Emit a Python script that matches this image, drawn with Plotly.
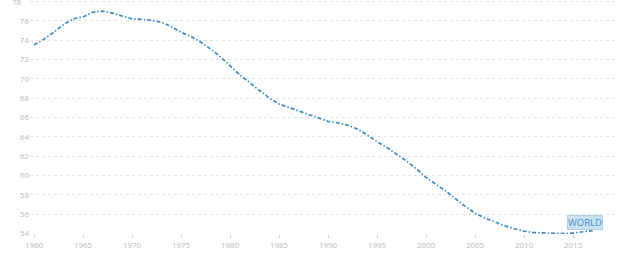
import plotly.graph_objects as go

years = list(range(1960, 2018))
values = [
    73.5, 74.1, 74.8, 75.6, 76.2, 76.4, 76.9, 77.0, 76.8, 76.5,
    76.2, 76.15, 76.05, 75.85, 75.4, 74.8, 74.4, 73.8, 73.1, 72.3,
    71.3, 70.4, 69.6, 68.8, 68.0, 67.4, 67.05, 66.7, 66.35, 65.95,
    65.6, 65.45, 65.2, 64.8, 64.2, 63.5, 62.9, 62.2, 61.5, 60.7,
    59.8, 59.1, 58.4, 57.6, 56.8, 56.1, 55.6, 55.2, 54.8, 54.5,
    54.25, 54.1, 54.05, 54.0, 54.0, 54.05, 54.15, 54.3,
]
x_ticks = [1960, 1965, 1970, 1975, 1980, 1985, 1990, 1995, 2000, 2005, 2010, 2015]
y_ticks = [54, 56, 58, 60, 62, 64, 66, 68, 70, 72, 74, 76, 78]
series_label = "WORLD"

line_color = "#3a8dc5"
fig = go.Figure()
fig.add_trace(go.Scatter(
    x=years, y=values, mode="lines",
    line=dict(color=line_color, width=1.7, dash="4px,2px,1.5px,2px"),
    hoverinfo="x+y", showlegend=False,
))
fig.add_annotation(
    x=2016.2, y=55.18, xref="x", yref="y", text=series_label,
    showarrow=False, font=dict(family="Open Sans", size=9.5, color="#4a93c9"),
    bgcolor="#c9e0f1", bordercolor="#aed0ea", borderwidth=1, borderpad=0,
)
# top tick label sits half outside the page; plotly culls it, so draw it as text
fig.add_annotation(
    x=0, xref="paper", xanchor="right", xshift=-6,
    y=y_ticks[-1], yref="y", yanchor="middle", text=str(y_ticks[-1]),
    showarrow=False, font=dict(family="Open Sans", size=8, color="#bbbbbb"),
)
fig.update_layout(
    width=620, height=266,
    margin=dict(l=30, r=5, t=0, b=32),
    paper_bgcolor="white", plot_bgcolor="white",
    font=dict(family="Open Sans", size=8, color="#bbbbbb"),
    xaxis=dict(
        range=[1959.59, 2019.28], tickvals=x_ticks, showgrid=False,
        zeroline=False, showline=False, ticks="outside", ticklen=3,
        tickcolor="#cccccc", tickwidth=1,
        tickfont=dict(size=8, color="#bbbbbb"),
    ),
    yaxis=dict(
        range=[53.95, 78.15], tickvals=y_ticks, showgrid=True,
        gridcolor="#e4e4e4", griddash="3px,3px", gridwidth=1,
        zeroline=False, showline=False, ticks="",
        tickfont=dict(size=8, color="#bbbbbb"),
    ),
)
fig.write_html("out.html")
